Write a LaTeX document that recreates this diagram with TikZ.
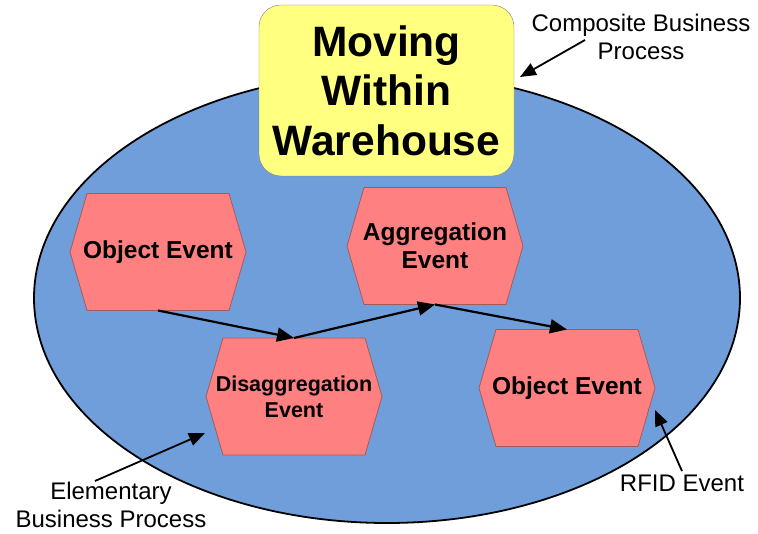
\documentclass[tikz,border=0pt]{standalone}
\usepackage{fontspec}
\setmainfont{Liberation Sans}
\usetikzlibrary{arrows.meta, calc}

\definecolor{procblue}{RGB}{112,158,218}
\definecolor{evpink}{RGB}{255,128,128}
\definecolor{evedge}{RGB}{165,90,90}
\definecolor{titleyellow}{RGB}{255,255,128}

\pgfdeclarelayer{ellipse}
\pgfdeclarelayer{hexes}
\pgfsetlayers{ellipse,hexes,main}

\tikzset{
	evbox/.style={minimum width=176pt, minimum height=117pt, inner sep=0pt, outer sep=0pt, align=center, font=\fontsize{24.5}{28}\selectfont\bfseries},
	evhex/.style={fill=evpink, draw=evedge, line width=.8pt},
	flow/.style={line width=2.2pt, -{Triangle[length=17pt, width=14pt]}},
	note/.style={align=center, font=\fontsize{24}{28}\selectfont},
	pointer/.style={line width=1.8pt, -{Triangle[length=16pt, width=13pt]}},
}

% hexagon drawn under an event node
\newcommand{\hexof}[1]{%
	\begin{pgfonlayer}{hexes}
		\draw[evhex] ($(#1.north west)+(17,0)$) -- ($(#1.north east)+(-17,0)$) -- (#1.east) -- ($(#1.south east)+(-17,0)$) -- ($(#1.south west)+(17,0)$) -- (#1.west) -- cycle;
	\end{pgfonlayer}}

\begin{document}
\begin{tikzpicture}[x=1pt, y=-1pt]
			\useasboundingbox (0,0) rectangle (758,534);

			\begin{pgfonlayer}{ellipse}
				\draw[fill=procblue, line width=1.8pt] (387,298) ellipse [x radius=353, y radius=225];
			\end{pgfonlayer}

			\node[draw=gray, fill=titleyellow, rounded corners=22pt, minimum width=255pt, minimum height=171pt, align=center, font=\fontsize{42.5}{49.5}\selectfont\bfseries] (title) at (386.5,90.5) {Moving\\Within\\Warehouse};

			\node[evbox] (obj1) at (158,252) {Object Event}; \hexof{obj1}
			\node[evbox, font=\fontsize{21.5}{26}\selectfont\bfseries] (disagg) at (294,396.5) {Disaggregation\\Event}; \hexof{disagg}
			\node[evbox] (agg) at (435,246) {Aggregation\\Event}; \hexof{agg}
			\node[evbox] (obj2) at (567,388) {Object Event}; \hexof{obj2}

			\draw[flow] (obj1.south) -- (disagg.north);
			\draw[flow] (disagg.north) -- (agg.south);
			\draw[flow] (agg.south) -- (obj2.north);

			\node[note] (composite) at (641,37) {Composite Business\\Process};
			\node[note] (rfid) at (682,483) {RFID Event};
			\node[note, inner sep=1pt] (elementary) at (111,505) {Elementary\\Business Process};

			\coordinate (compositetail) at (585,40);
			\coordinate (compositetip) at (520,77);
			\coordinate (rfidtip) at (655,410);
			\coordinate (elementarytip) at (205,433);

			\draw[pointer] (compositetail) -- (compositetip);
			\draw[pointer] (rfid.north) -- (rfidtip);
			\draw[pointer] ([xshift=-16pt]elementary.north) -- (elementarytip);
\end{tikzpicture}
\end{document}
